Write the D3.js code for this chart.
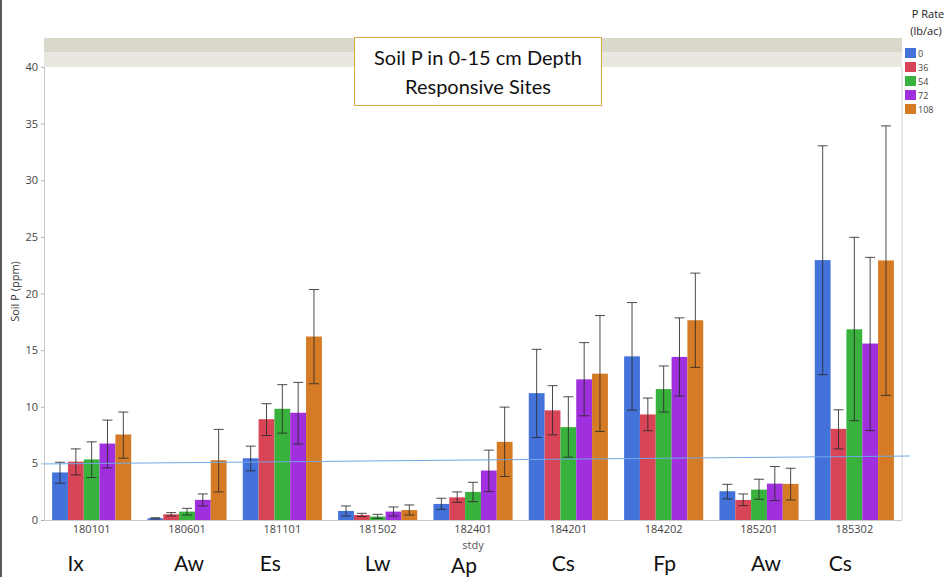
<!DOCTYPE html>
<html>
<head>
<meta charset="utf-8">
<script src="https://cdn.jsdelivr.net/npm/d3@7"></script>
<style>
  html, body { margin: 0; padding: 0; background: #fff; }
  svg { display: block; }
</style>
</head>
<body>
<svg id="chart" width="947" height="577"></svg>
<script>
// Study sites and their soil-type labels
const studies = ["180101", "180601", "181101", "181502", "182401", "184201", "184202", "185201", "185302"];
const soils = ["Ix", "Aw", "Es", "Lw", "Ap", "Cs", "Fp", "Aw", "Cs"];

// P rates (lb/ac)
const rates = ["0", "36", "54", "72", "108"];
const rateColors = ["#4372db", "#d84557", "#38b13d", "#a02fdd", "#d67b25"];

// Mean soil P (ppm) per study, one row per study, one column per rate
const meanP = [
  [4.2, 5.15, 5.35, 6.75, 7.55],
  [0.15, 0.5, 0.74, 1.78, 5.28],
  [5.45, 8.9, 9.82, 9.47, 16.2],
  [0.8, 0.44, 0.3, 0.74, 0.88],
  [1.42, 2.0, 2.48, 4.37, 6.9],
  [11.2, 9.68, 8.2, 12.42, 12.92],
  [14.45, 9.32, 11.56, 14.4, 17.64],
  [2.54, 1.77, 2.68, 3.21, 3.19],
  [22.95, 8.05, 16.84, 15.58, 22.92]
];
// Upper and lower error bar ends (ppm)
const errHigh = [
  [5.1, 6.28, 6.9, 8.82, 9.53],
  [0.2, 0.65, 1.03, 2.3, 8.0],
  [6.52, 10.27, 11.95, 12.15, 20.35],
  [1.24, 0.59, 0.5, 1.15, 1.33],
  [1.92, 2.48, 3.33, 6.17, 9.97],
  [15.07, 11.86, 10.88, 15.66, 18.05],
  [19.2, 10.77, 13.6, 17.85, 21.8],
  [3.15, 2.3, 3.6, 4.72, 4.57],
  [33.04, 9.73, 24.96, 23.19, 34.8]
];
const errLow = [
  [3.25, 3.98, 3.75, 4.6, 5.46],
  [0.1, 0.35, 0.44, 1.24, 2.48],
  [4.34, 7.46, 7.67, 6.7, 12.03],
  [0.35, 0.3, 0.15, 0.35, 0.44],
  [0.94, 1.56, 1.62, 2.51, 3.84],
  [7.29, 7.52, 5.55, 9.2, 7.82],
  [9.7, 7.88, 9.53, 10.94, 13.48],
  [1.86, 1.27, 1.83, 1.71, 1.77],
  [12.83, 6.28, 8.76, 7.9, 11.0]
];

// Y axis ticks (ppm)
const yTicks = [0, 5, 10, 15, 20, 25, 30, 35, 40];
// Hand-drawn reference line, ppm at the left and right ends
const refLine = [4.95, 5.65];

const svg = d3.select("#chart");
const uiFont = "'Open Sans', 'Noto Sans', sans-serif";
const bigFont = "Lato, 'Open Sans', sans-serif";

const plot = { left: 44, right: 902, top: 67, bottom: 520 };

const x = d3.scaleBand()
  .domain(studies)
  .range([plot.left, plot.right])
  .paddingInner(0.17)
  .paddingOuter(0.085);

const xr = d3.scaleBand()
  .domain(rates)
  .range([0, x.bandwidth()]);

const y = d3.scaleLinear().domain([0, 40]).range([plot.bottom, plot.top]);

// left page edge
svg.append("rect").attr("x", 0).attr("y", 0).attr("width", 2).attr("height", 577).attr("fill", "#5a5a5a");

// header band above the plot
svg.append("rect").attr("x", plot.left).attr("y", 38).attr("width", plot.right - plot.left).attr("height", 14).attr("fill", "#dad8ca");
svg.append("rect").attr("x", plot.left).attr("y", 52).attr("width", plot.right - plot.left).attr("height", plot.top - 52).attr("fill", "#e9e7e0");

// plot frame
svg.append("line").attr("x1", plot.right).attr("x2", plot.right).attr("y1", plot.top).attr("y2", plot.bottom).attr("stroke", "#d0d0d0");

// y axis
const yAxis = svg.append("g")
  .attr("transform", `translate(${plot.left},0)`)
  .call(d3.axisLeft(y).tickValues(yTicks).tickSize(3).tickPadding(3));
yAxis.select(".domain").attr("stroke", "#c8c8c8");
yAxis.selectAll(".tick line").attr("stroke", "#b0b0b0");
yAxis.selectAll("text").attr("font-family", uiFont).attr("font-size", 11).attr("fill", "#444");

// bars
const groups = svg.append("g").selectAll("g")
  .data(studies)
  .join("g")
  .attr("transform", d => `translate(${x(d)},0)`);

groups.each(function (s, i) {
  const g = d3.select(this);
  const rows = rates.map((r, j) => ({ r, j, v: meanP[i][j], hi: errHigh[i][j], lo: errLow[i][j] }));
  g.selectAll("rect")
    .data(rows)
    .join("rect")
    .attr("x", d => xr(d.r))
    .attr("width", xr.bandwidth())
    .attr("y", d => y(d.v))
    .attr("height", d => y(0) - y(d.v))
    .attr("fill", d => rateColors[d.j]);

  const cap = 5;
  const eb = g.selectAll("g.err")
    .data(rows)
    .join("g")
    .attr("class", "err")
    .attr("stroke", "#2a2a2a")
    .attr("stroke-width", 1)
    .attr("stroke-opacity", 0.85);
  eb.append("line")
    .attr("x1", d => xr(d.r) + xr.bandwidth() / 2)
    .attr("x2", d => xr(d.r) + xr.bandwidth() / 2)
    .attr("y1", d => y(d.hi))
    .attr("y2", d => y(d.lo));
  eb.append("line")
    .attr("x1", d => xr(d.r) + xr.bandwidth() / 2 - cap)
    .attr("x2", d => xr(d.r) + xr.bandwidth() / 2 + cap)
    .attr("y1", d => y(d.hi))
    .attr("y2", d => y(d.hi));
  eb.append("line")
    .attr("x1", d => xr(d.r) + xr.bandwidth() / 2 - cap)
    .attr("x2", d => xr(d.r) + xr.bandwidth() / 2 + cap)
    .attr("y1", d => y(d.lo))
    .attr("y2", d => y(d.lo));
});

// x axis
const xAxis = svg.append("g")
  .attr("transform", `translate(0,${plot.bottom})`)
  .call(d3.axisBottom(x).tickSize(0).tickPadding(5));
xAxis.select(".domain").attr("stroke", "#c8c8c8").attr("d", `M${plot.left},0.5H${plot.right}`);
xAxis.selectAll("text").attr("font-family", uiFont).attr("font-size", 11).attr("fill", "#444");

// axis titles
svg.append("text")
  .attr("x", (plot.left + plot.right) / 2).attr("y", 549)
  .attr("text-anchor", "middle")
  .attr("font-family", uiFont).attr("font-size", 11).attr("fill", "#555")
  .text("stdy");
svg.append("text")
  .attr("transform", `translate(19,${(plot.top + plot.bottom) / 2 - 2}) rotate(-90)`)
  .attr("text-anchor", "middle")
  .attr("font-family", uiFont).attr("font-size", 11).attr("fill", "#333")
  .text("Soil P (ppm)");

// reference line across the plot
svg.append("line")
  .attr("x1", plot.left).attr("x2", plot.right + 8)
  .attr("y1", y(refLine[0])).attr("y2", y(refLine[1]))
  .attr("stroke", "#6fa8e6").attr("stroke-width", 1);

// soil labels under each study (hand placed, slightly off-centre)
const soilOffset = [-16, 2, -12, 0, -9, -5, 1, 7, -14];
svg.append("g").selectAll("text")
  .data(studies)
  .join("text")
  .attr("x", (d, i) => x(d) + x.bandwidth() / 2 + soilOffset[i])
  .attr("y", (d, i) => i === 4 ? 573 : 571)
  .attr("text-anchor", "middle")
  .attr("font-family", bigFont).attr("font-size", 21).attr("fill", "#111")
  .text((d, i) => soils[i]);

// title box
const tb = svg.append("g");
tb.append("rect")
  .attr("x", 354.5).attr("y", 37.5).attr("width", 247).attr("height", 68)
  .attr("fill", "#fff").attr("stroke", "#d4aa45").attr("stroke-width", 1);
tb.append("text")
  .attr("x", 478).attr("y", 65)
  .attr("text-anchor", "middle")
  .attr("font-family", bigFont).attr("font-size", 20).attr("fill", "#111")
  .text("Soil P in 0-15 cm Depth");
tb.append("text")
  .attr("x", 478).attr("y", 94)
  .attr("text-anchor", "middle")
  .attr("font-family", bigFont).attr("font-size", 20).attr("fill", "#111")
  .text("Responsive Sites");

// legend
const lg = svg.append("g");
lg.append("text").attr("x", 928).attr("y", 18).attr("text-anchor", "middle")
  .attr("font-family", uiFont).attr("font-size", 11).attr("fill", "#222").text("P Rate");
lg.append("text").attr("x", 926).attr("y", 35).attr("text-anchor", "middle")
  .attr("font-family", uiFont).attr("font-size", 11).attr("fill", "#222").text("(lb/ac)");
const items = lg.selectAll("g.item")
  .data(rates)
  .join("g")
  .attr("class", "item")
  .attr("transform", (d, i) => `translate(905,${48 + i * 14})`);
items.append("rect").attr("width", 11).attr("height", 10).attr("fill", (d, i) => rateColors[i]);
items.append("text").attr("x", 13).attr("y", 9)
  .attr("font-family", uiFont).attr("font-size", 9).attr("fill", "#444")
  .text(d => d);
</script>
</body>
</html>
